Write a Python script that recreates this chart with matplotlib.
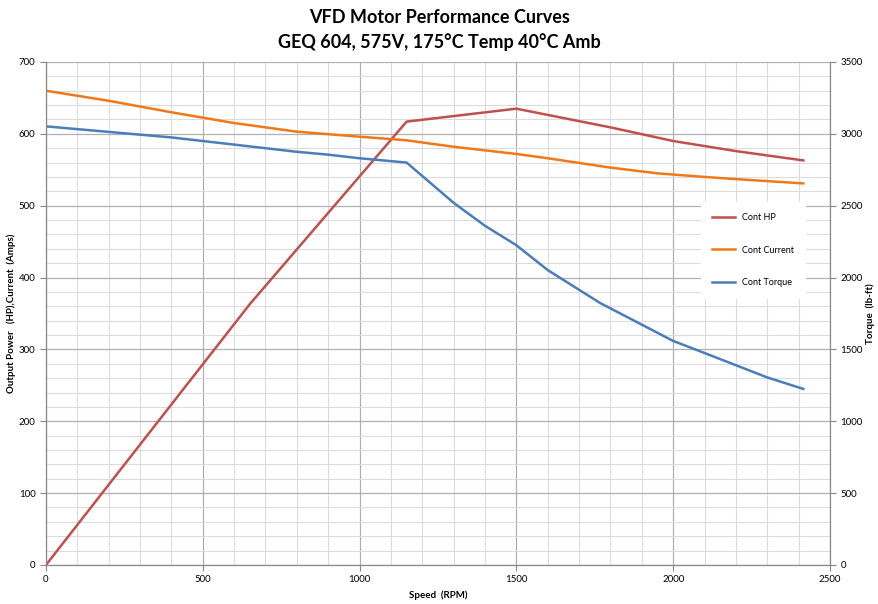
import numpy as np
import matplotlib
matplotlib.use("Agg")
import matplotlib.pyplot as plt
from matplotlib.ticker import MultipleLocator

plt.rcParams['font.family'] = ['Lato', 'DejaVu Sans']

# data
hp_rpm = [0, 650, 1150, 1500, 1800, 2000, 2200, 2415]
hp_val = [0, 363, 617, 635, 609, 590, 576, 563]

cur_rpm = [0, 200, 400, 600, 800, 1000, 1150, 1300, 1500, 1600, 1800, 1950, 2100, 2200, 2415]
cur_val = [660, 646, 630, 615, 603, 596, 591, 582, 572, 566, 553, 545, 540, 537, 531]

tq_rpm = [0, 400, 800, 900, 1000, 1150, 1300, 1400, 1500, 1600, 1767, 2000, 2100, 2200, 2300, 2415]
tq_val = [3052, 2975, 2875, 2855, 2830, 2800, 2520, 2360, 2225, 2052, 1823, 1559, 1475, 1390, 1305, 1225]

fig = plt.figure(figsize=(8.79, 6.04), dpi=100)
ax = fig.add_axes([0.0523, 0.0646, 0.8919, 0.8328])
ax2 = ax.twinx()

ax.set_xlim(0, 2500)
ax.set_ylim(0, 700)
ax2.set_ylim(0, 3500)

ax.xaxis.set_major_locator(MultipleLocator(500))
ax.xaxis.set_minor_locator(MultipleLocator(100))
ax.yaxis.set_major_locator(MultipleLocator(100))
ax.yaxis.set_minor_locator(MultipleLocator(20))
ax2.yaxis.set_major_locator(MultipleLocator(500))

ax.grid(which='minor', color='#dcdcdc', lw=0.8)
ax.grid(which='major', color='#b0b0b0', lw=0.9)
ax.set_axisbelow(True)
ax.tick_params(which='minor', length=0)
ax.tick_params(which='major', length=4, color='#888888', labelsize=7)
ax2.tick_params(length=4, color='#888888', labelsize=7)

for a in (ax, ax2):
    a.spines['top'].set_visible(False)
    for s in ('left', 'right', 'bottom'):
        a.spines[s].set_color('#888888')

l1, = ax.plot(hp_rpm, hp_val, color='#c0504d', lw=1.8, label='Cont HP')
l2, = ax.plot(cur_rpm, cur_val, color='#f07818', lw=1.8, label='Cont Current')
l3, = ax2.plot(tq_rpm, tq_val, color='#4a7ebb', lw=1.8, label='Cont Torque')

ax.set_xlabel('Speed  (RPM)', fontsize=7, fontweight='bold', labelpad=4)
ax.set_ylabel('Output Power   (HP),Current  (Amps)', fontsize=7, fontweight='bold', labelpad=2)
ax2.set_ylabel('Torque  (lb-ft)', fontsize=7, fontweight='bold', labelpad=2)

leg = ax2.legend(handles=[l1, l2, l3], loc='upper left', bbox_to_anchor=(0.83, 0.73),
                 fontsize=6.5, frameon=True, handlelength=2.5, labelspacing=2.6,
                 borderpad=1.2, fancybox=False)
leg.get_frame().set_edgecolor('white')
leg.get_frame().set_facecolor('white')
leg.get_frame().set_alpha(1)

fig.suptitle('VFD Motor Performance Curves\nGEQ 604, 575V, 175°C Temp 40°C Amb',
             fontsize=13, fontweight='bold', y=0.985, linespacing=1.5)

fig.savefig('out.png', dpi=100)
